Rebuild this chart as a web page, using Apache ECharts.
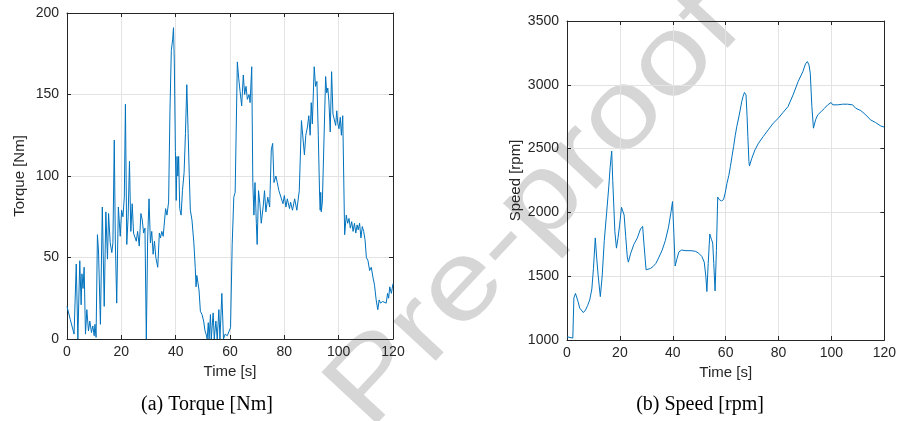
<!DOCTYPE html>
<html>
<head>
<meta charset="utf-8">
<script src="https://cdn.jsdelivr.net/npm/echarts@6/dist/echarts.min.js"></script>
<style>
  html, body { margin: 0; padding: 0; background: #fff; }
  #chart { width: 899px; height: 421px; }
</style>
</head>
<body>
<div id="chart"></div>
<script>
// 扭矩 (a)
const torqueTime = [0, 1.2, 2.6, 3.4, 4.0, 4.7, 5.2, 5.5, 5.9, 6.3, 6.8, 7.3, 7.9, 8.4, 9.0, 9.5, 10.0, 10.3, 10.7, 11.2, 11.6, 12.3, 13.0, 13.7, 14.3, 14.9, 15.3, 15.9, 16.5, 16.9, 17.4, 17.8, 18.3, 18.9, 19.6, 20.1, 20.6, 21.1, 21.5, 22.0, 22.5, 23.0, 23.5, 24.0, 24.5, 25.0, 25.5, 26.0, 26.6, 27.2, 27.7, 28.2, 28.7, 29.2, 29.7, 30.2, 30.7, 31.2, 31.7, 32.2, 32.7, 33.4, 34.0, 34.4, 34.9, 35.4, 36.3, 36.8, 37.4, 37.9, 38.4, 38.9, 39.2, 39.5, 39.9, 40.2, 40.5, 40.8, 41.1, 41.5, 42.0, 42.5, 43.1, 43.6, 44.1, 44.6, 45.0, 45.4, 46.0, 46.7, 47.2, 47.5, 47.8, 48.6, 49.1, 49.7, 50.3, 50.8, 51.2, 51.6, 52.0, 52.3, 52.8, 53.1, 53.8, 54.2, 54.8, 55.3, 55.9, 56.3, 57.0, 57.6, 58.2, 59.0, 59.6, 60.2, 60.8, 61.4, 61.9, 62.7, 63.2, 63.7, 64.3, 64.9, 65.4, 65.9, 66.4, 67.0, 67.4, 68.0, 68.4, 68.8, 69.2, 69.7, 70.0, 70.5, 71.0, 71.5, 72.2, 72.7, 73.2, 73.9, 74.6, 75.2, 75.7, 76.2, 76.9, 77.4, 78.0, 78.6, 79.5, 80.0, 80.6, 81.1, 81.9, 82.3, 83.0, 83.8, 84.6, 85.5, 86.3, 86.8, 87.4, 87.9, 88.5, 89.0, 89.5, 89.9, 90.3, 91.0, 91.5, 92.0, 92.5, 93.0, 93.2, 93.4, 93.6, 94.0, 95.2, 95.6, 96.0, 96.4, 96.9, 97.4, 97.9, 98.4, 98.9, 99.3, 99.7, 100.1, 100.6, 101.0, 101.5, 102.2, 102.8, 103.3, 103.8, 104.3, 104.8, 105.3, 105.8, 106.3, 106.8, 107.2, 107.7, 108.2, 108.7, 109.2, 109.7, 110.2, 110.8, 111.4, 112.0, 112.6, 113.2, 113.8, 114.4, 114.9, 115.4, 116.2, 116.8, 117.5, 118.0, 118.4, 118.8, 119.4, 120];
const torqueValue = [20, 12, 3, 46, 0, 48, 21, 40, 31, 44, 3, 18, 5, 11, 4, 8, 2, 9, 1, 64, 54, 9, 81, 20, 78, 49, 77, 59, 53, 59, 122, 59, 22, 81, 63, 79, 75, 87, 144, 58, 75, 109, 66, 83, 65, 66, 60, 66, 57, 77, 73, 65, 68, 0, 62, 86, 59, 66, 52, 60, 50, 44, 65, 62, 66, 63, 80, 76, 84, 140, 177, 184, 191, 170, 115, 85, 112, 100, 112, 80, 76, 91, 102, 126, 156, 126, 101, 79, 73, 59, 44, 32, 39, 30, 17, 15, 11, 5, 3, 0, 10, 0, 15, 0, 16, 0, 11, 0, 18, 0, 28, 0, 3, 2, 3, 7, 58, 87, 90, 170, 160, 152, 143, 162, 150, 155, 147, 150, 145, 167, 96, 76, 96, 71, 58, 91, 83, 71, 81, 91, 78, 87, 81, 116, 120, 96, 100, 96, 91, 92, 83, 88, 81, 86, 80, 84, 79, 86, 79, 91, 134, 134, 113, 125, 130, 137, 125, 145, 132, 167, 155, 158, 125, 87, 79, 90, 78, 84, 161, 151, 154, 146, 127, 164, 138, 139, 131, 140, 132, 129, 136, 125, 137, 64, 76, 71, 74, 68, 72, 66, 71, 65, 70, 67, 71, 62, 69, 66, 61, 50, 48, 42, 44, 38, 33, 24, 18, 24, 22, 23, 24, 22, 28, 25, 32, 28, 34];

// 转速 (b)
const speedTime = [0, 0.5, 2.2, 2.6, 3.2, 3.7, 4.2, 4.8, 5.5, 6.2, 7.0, 7.8, 8.6, 9.4, 10.0, 10.7, 11.2, 11.8, 12.6, 13.3, 14.1, 15.0, 15.8, 16.3, 16.9, 17.3, 17.7, 18.1, 18.7, 19.3, 19.9, 20.6, 21.1, 21.6, 22.2, 22.8, 23.2, 24.1, 25.3, 26.6, 27.8, 28.6, 29.2, 29.9, 30.5, 31.5, 32.5, 33.6, 34.8, 36.0, 37.2, 38.4, 39.3, 39.9, 40.4, 40.9, 41.5, 42.3, 43.3, 45.0, 46.9, 48.6, 49.8, 51.0, 51.9, 52.5, 52.9, 53.4, 54.0, 54.6, 55.1, 55.5, 56.0, 56.5, 57.0, 57.6, 58.4, 59.2, 59.8, 60.5, 61.2, 61.8, 62.4, 63.0, 63.6, 64.2, 64.9, 65.5, 66.1, 66.6, 67.1, 67.7, 68.1, 68.4, 68.8, 69.0, 69.9, 71.1, 72.4, 74.2, 76.1, 78.0, 79.9, 81.7, 83.6, 85.5, 87.4, 89.2, 90.2, 90.9, 91.5, 92.0, 92.6, 93.2, 94.0, 94.8, 96.1, 97.4, 98.6, 99.9, 100.5, 101.1, 102.4, 104.2, 106.1, 108.0, 109.2, 111.1, 113.0, 114.8, 116.7, 118.6, 120];
const speedValue = [1025, 1010, 1015, 1330, 1365, 1370, 1300, 1250, 1240, 1215, 1235, 1270, 1315, 1400, 1560, 1800, 1650, 1500, 1340, 1500, 1780, 2000, 2200, 2350, 2480, 2250, 2050, 1850, 1720, 1800, 1900, 2040, 2030, 1980, 1810, 1650, 1610, 1680, 1750, 1800, 1870, 1890, 1730, 1550, 1545, 1560, 1575, 1600, 1650, 1705, 1780, 1885, 2000, 2085, 1840, 1580, 1630, 1690, 1705, 1700, 1700, 1695, 1680, 1655, 1610, 1500, 1380, 1600, 1830, 1790, 1760, 1600, 1385, 1700, 2120, 2100, 2090, 2100, 2150, 2228, 2290, 2360, 2440, 2515, 2600, 2672, 2740, 2803, 2870, 2910, 2940, 2921, 2750, 2594, 2400, 2364, 2425, 2490, 2542, 2594, 2647, 2699, 2738, 2783, 2830, 2921, 3025, 3104, 3164, 3182, 3156, 3091, 2830, 2660, 2725, 2764, 2790, 2816, 2843, 2861, 2843, 2830, 2843, 2848, 2848, 2843, 2816, 2798, 2764, 2725, 2704, 2678, 2668];

const timeTicks = [0, 20, 40, 60, 80, 100, 120];
const torqueTicks = [0, 50, 100, 150, 200];
const speedTicks = [1000, 1500, 2000, 2500, 3000, 3500];

const lineColor = '#0072BD';
const axisColor = '#262626';
const sans = 'Liberation Sans';

const zip = (xs, ys) => xs.map((x, i) => [x, ys[i]]);

// 主坐标轴
const mainX = (grid, ticks) => ({
  gridIndex: grid, type: 'value', position: 'bottom',
  min: ticks[0], max: ticks[ticks.length - 1], interval: ticks[1] - ticks[0],
  name: 'Time [s]', nameLocation: 'middle', nameGap: 24,
  nameTextStyle: { color: axisColor, fontSize: 15, fontFamily: sans },
  axisLine: { show: true, onZero: false, lineStyle: { color: axisColor, width: 1 } },
  axisTick: { show: true, inside: true, length: 4, lineStyle: { color: axisColor } },
  axisLabel: { color: axisColor, fontSize: 14, fontFamily: sans, margin: 6, formatter: v => String(v) },
  splitLine: { show: true, lineStyle: { color: '#e3e3e3', width: 1 } }
});
const mainY = (grid, ticks, name, gap) => ({
  gridIndex: grid, type: 'value', position: 'left',
  min: ticks[0], max: ticks[ticks.length - 1], interval: ticks[1] - ticks[0],
  name: name, nameLocation: 'middle', nameGap: gap,
  nameTextStyle: { color: axisColor, fontSize: 15, fontFamily: sans },
  axisLine: { show: true, onZero: false, lineStyle: { color: axisColor, width: 1 } },
  axisTick: { show: true, inside: true, length: 4, lineStyle: { color: axisColor } },
  axisLabel: { color: axisColor, fontSize: 14, fontFamily: sans, margin: 8, formatter: v => String(v) },
  splitLine: { show: true, lineStyle: { color: '#e3e3e3', width: 1 } }
});
// 盒子上/右边框
const boxAxis = (base, pos) => Object.assign({}, base, {
  position: pos, name: '', axisLabel: { show: false }, splitLine: { show: false }
});

const xA = mainX(0, timeTicks), xB = mainX(1, timeTicks);
const yA = mainY(0, torqueTicks, 'Torque [Nm]', 40), yB = mainY(1, speedTicks, 'Speed [rpm]', 44);

const option = {
  animation: false,
  backgroundColor: '#ffffff',
  grid: [
    { left: 67, top: 13, width: 326, height: 326 },
    { left: 567, top: 21, width: 320, height: 319 }
  ],
  xAxis: [xA, boxAxis(xA, 'top'), xB, boxAxis(xB, 'top')],
  yAxis: [yA, boxAxis(yA, 'right'), yB, boxAxis(yB, 'right')],
  graphic: [
    {
      // 水印
      type: 'text', z: -10,
      x: 535, y: 210, rotation: 0.82, scaleX: 1.2,
      style: {
        text: 'Pre-proof', fill: '#d6d6d6', fontSize: 110, fontFamily: sans,
        align: 'center', verticalAlign: 'middle'
      }
    },
    {
      type: 'text', x: 207, y: 405,
      style: { text: '(a) Torque [Nm]', fill: '#000', fontSize: 20, fontFamily: 'Liberation Serif', align: 'center', verticalAlign: 'middle' }
    },
    {
      type: 'text', x: 700, y: 405,
      style: { text: '(b) Speed [rpm]', fill: '#000', fontSize: 20, fontFamily: 'Liberation Serif', align: 'center', verticalAlign: 'middle' }
    }
  ],
  series: [
    {
      type: 'line', xAxisIndex: 0, yAxisIndex: 0, data: zip(torqueTime, torqueValue),
      showSymbol: false, lineStyle: { color: lineColor, width: 1 }, z: 5
    },
    {
      type: 'line', xAxisIndex: 2, yAxisIndex: 2, data: zip(speedTime, speedValue),
      showSymbol: false, lineStyle: { color: lineColor, width: 1 }, z: 5
    }
  ]
};

const chart = echarts.init(document.getElementById('chart'));
chart.setOption(option);
</script>
</body>
</html>
